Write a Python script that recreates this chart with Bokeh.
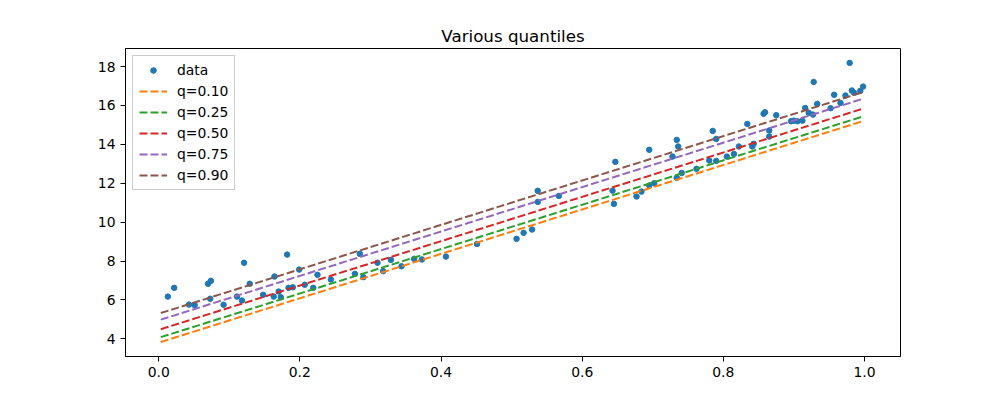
from bokeh.plotting import figure
from bokeh.models import Range1d, FixedTicker, Legend, LegendItem, ColumnDataSource, PrintfTickFormatter
from bokeh.embed import file_html
from bokeh.resources import INLINE

# data points
x_data = [0.013, 0.022, 0.043, 0.051, 0.070, 0.074, 0.073, 0.092, 0.111, 0.118,
          0.121, 0.129, 0.148, 0.163, 0.164, 0.170, 0.173, 0.182, 0.184, 0.190,
          0.199, 0.207, 0.219, 0.225, 0.244, 0.278, 0.285, 0.290, 0.310, 0.318,
          0.329, 0.344, 0.362, 0.373, 0.407, 0.451, 0.507, 0.517, 0.529, 0.537,
          0.537, 0.567, 0.643, 0.645, 0.647, 0.677, 0.684, 0.695, 0.695, 0.702,
          0.728, 0.734, 0.734, 0.736, 0.741, 0.762, 0.780, 0.785, 0.790, 0.790,
          0.805, 0.815, 0.822, 0.834, 0.841, 0.843, 0.857, 0.859, 0.865, 0.865,
          0.875, 0.896, 0.900, 0.905, 0.912, 0.916, 0.921, 0.927, 0.928, 0.933,
          0.952, 0.957, 0.966, 0.973, 0.979, 0.982, 0.985, 0.994, 0.998]
y_data = [6.17, 6.62, 5.76, 5.73, 6.83, 6.98, 6.06, 5.75, 6.17, 5.97,
          7.91, 6.83, 6.26, 6.17, 7.20, 6.43, 6.14, 8.33, 6.62, 6.65,
          7.56, 6.78, 6.62, 7.29, 7.05, 7.34, 8.37, 7.17, 7.91, 7.48,
          8.06, 7.73, 8.11, 8.08, 8.23, 8.88, 9.14, 9.45, 9.62, 11.04,
          11.61, 11.35, 11.62, 10.94, 13.10, 11.32, 11.57, 11.88, 13.72, 12.00,
          13.37, 12.28, 14.23, 13.89, 12.53, 12.74, 13.17, 14.69, 14.28, 13.15,
          13.37, 13.51, 13.89, 15.05, 13.89, 14.03, 15.57, 15.65, 14.71, 14.40,
          15.50, 15.19, 15.22, 15.19, 15.22, 15.87, 15.62, 15.53, 17.21, 16.08,
          15.86, 16.55, 16.13, 16.51, 18.19, 16.77, 16.66, 16.75, 16.97]

# fitted quantile lines
quantile_labels = ["q=0.10", "q=0.25", "q=0.50", "q=0.75", "q=0.90"]
intercepts = [3.80, 4.05, 4.46, 4.95, 5.29]
slopes = [11.42, 11.41, 11.40, 11.42, 11.42]
line_x = [0.003, 0.998]
line_colors = ["#ff7f0e", "#2ca02c", "#d62728", "#9467bd", "#8c564b"]

x_ticks = [0.0, 0.2, 0.4, 0.6, 0.8, 1.0]
y_ticks = [4, 6, 8, 10, 12, 14, 16, 18]

FONT = "DejaVu Sans"

p = figure(width=984, height=392, output_backend="svg", toolbar_location=None,
           x_range=Range1d(-0.047, 1.051), y_range=Range1d(3.09, 18.93),
           min_border_left=125, min_border_right=84, min_border_top=48,
           min_border_bottom=36, title="Various quantiles")

p.title.text_font = FONT
p.title.text_font_size = "16.7px"
p.title.text_font_style = "normal"
p.title.text_color = "black"
p.title.align = "center"
p.title.standoff = 6

p.xgrid.visible = False
p.ygrid.visible = False
p.outline_line_color = "black"
p.outline_line_alpha = 1.0
p.outline_line_width = 1

for ax in (p.xaxis[0], p.yaxis[0]):
    ax.axis_line_color = "black"
    ax.major_tick_line_color = "black"
    ax.major_tick_out = 5
    ax.major_tick_in = 0
    ax.minor_tick_line_color = None
    ax.major_label_text_font = FONT
    ax.major_label_text_font_size = "13.9px"
    ax.major_label_text_color = "black"
    ax.major_label_standoff = 5

p.xaxis[0].ticker = FixedTicker(ticks=x_ticks)
p.yaxis[0].ticker = FixedTicker(ticks=y_ticks)
p.xaxis[0].formatter = PrintfTickFormatter(format="%.1f")
p.yaxis[0].formatter = PrintfTickFormatter(format="%d")

src = ColumnDataSource(dict(x=x_data, y=y_data))
r_data = p.scatter("x", "y", source=src, size=5.5, color="#1f77b4", line_color="#1f77b4")

items = [LegendItem(label="data", renderers=[r_data])]
for lab, a, b, c in zip(quantile_labels, intercepts, slopes, line_colors):
    ys = [a + b * xv for xv in line_x]
    r = p.line(line_x, ys, line_color=c, line_width=2, line_dash="8 3")
    items.append(LegendItem(label=lab, renderers=[r]))

legend = Legend(items=items, location="top_left")
legend.margin = 7
legend.padding = 6
legend.spacing = 5
legend.glyph_width = 28
legend.glyph_height = 14
legend.label_height = 14
legend.label_standoff = 10
legend.label_text_font = FONT
legend.label_text_font_size = "13.9px"
legend.label_text_color = "black"
legend.border_line_color = "#cccccc"
legend.border_line_alpha = 1.0
legend.background_fill_alpha = 0.8
p.add_layout(legend)

open("out.html", "w").write(file_html(p, INLINE))
